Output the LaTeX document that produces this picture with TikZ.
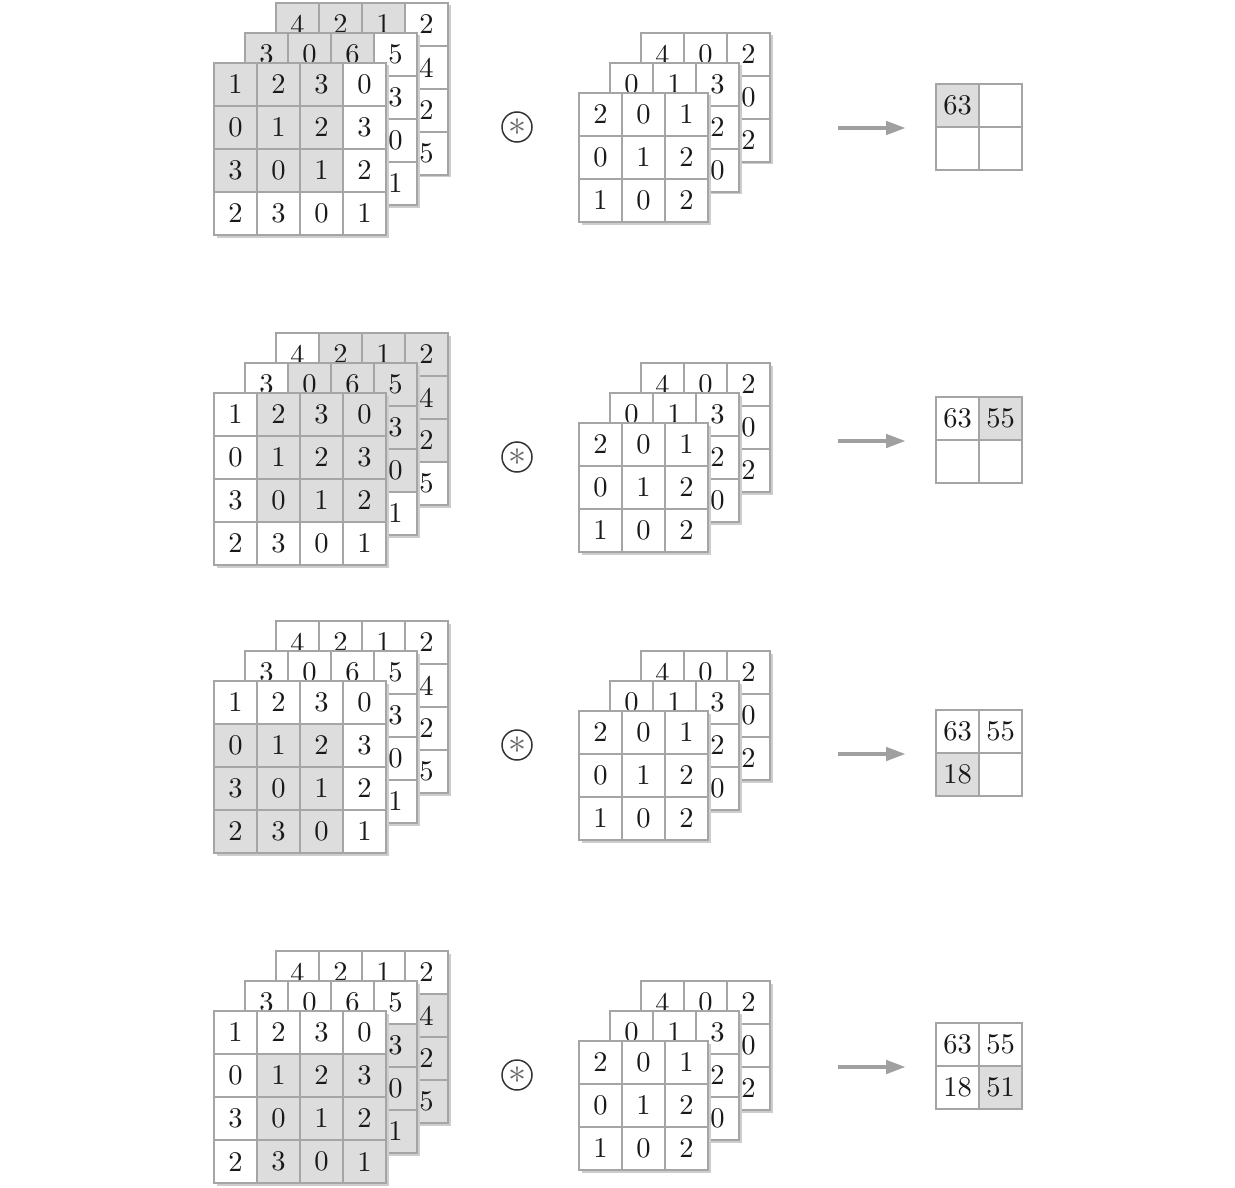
\documentclass[tikz,border=0pt]{standalone}
\usepackage{graphicx}
\usetikzlibrary{arrows.meta}
\definecolor{cg}{RGB}{221,221,221}
\colorlet{cw}{white}
\definecolor{linec}{RGB}{165,165,165}
\definecolor{shadowc}{RGB}{205,205,205}
\definecolor{arrowc}{RGB}{160,160,160}
\tikzset{
  cell/.style={rectangle, minimum size=43pt, inner sep=0pt, draw=linec, line width=1.2pt,
    font=\fontsize{10}{12}\selectfont, text=black!90},
  frame/.style={draw=linec, line width=2.2pt},
  conv/.style={circle, draw=black!80, line width=1.5pt, minimum size=30pt, inner sep=0pt,
    text=black!60, font=\fontsize{10}{12}\selectfont},
  flow/.style={draw=arrowc, line width=4.5pt, -{Triangle[length=20pt,width=13pt]}},
}
\newcommand{\gshadow}[3]{\fill[shadowc] (#1+2.5,#2+2.5) rectangle ++(#3*43,#3*43);}
\newcommand{\mgrid}[7]{%
  \foreach \v [count=\i from 0] in #7 {%
    \pgfmathtruncatemacro\rr{int(\i/#4)}%
    \pgfmathtruncatemacro\cc{mod(\i,#4)}%
    \pgfmathtruncatemacro\sh{(\rr>=#5)&&(\rr<=#5+#4-2)&&(\cc>=#6)&&(\cc<=#6+#4-2)}%
    \ifnum\sh=1 \def\fc{cg}\else\def\fc{cw}\fi
    \node[cell,fill=\fc] (#1-\rr-\cc) at ({#2+\cc*43+21.5},{#3+\rr*43+21.5}) {\scalebox{2.85}{\v}};
  }
  \draw[frame] (#2,#3) rectangle ++(#4*43,#4*43);
}
\def\inback{4,2,1,2,{},{},{},4,{},{},{},2,{},{},{},5}
\def\inmid{3,0,6,5,{},{},{},3,{},{},{},0,{},{},{},1}
\def\infront{1,2,3,0,0,1,2,3,3,0,1,2,2,3,0,1}
\def\fback{4,0,2,{},{},0,{},{},2}
\def\fmid{0,1,3,{},{},2,{},{},0}
\def\ffront{2,0,1,0,1,2,1,0,2}
\def\outA{63,{},{},{}}
\def\outB{63,55,{},{}}
\def\outC{63,55,18,{}}
\def\outD{63,55,18,51}
\newcommand{\convsym}{\scalebox{3.6}{$\ast$}}
\begin{document}
\begin{tikzpicture}[x=1pt,y=-1pt]
\useasboundingbox (0,0) rectangle (1235,1188);
% ---------- row 1 ----------
\gshadow{276}{3}{4}\mgrid{inAb}{276}{3}{4}{0}{0}{\inback}
\gshadow{245}{33}{4}\mgrid{inAm}{245}{33}{4}{0}{0}{\inmid}
\gshadow{214}{63}{4}\mgrid{inAf}{214}{63}{4}{0}{0}{\infront}
\node[conv] (opA) at (517,127) {\convsym};
\gshadow{641}{33}{3}\mgrid{fAb}{641}{33}{3}{9}{9}{\fback}
\gshadow{610}{63}{3}\mgrid{fAm}{610}{63}{3}{9}{9}{\fmid}
\gshadow{579}{93}{3}\mgrid{fAf}{579}{93}{3}{9}{9}{\ffront}
\coordinate (arAs) at (838,128);
\coordinate (arAe) at (906,128);
\draw[flow] (arAs) -- (arAe);
\mgrid{oA}{936}{84}{2}{0}{0}{\outA}
% ---------- row 2 ----------
\gshadow{276}{333}{4}\mgrid{inBb}{276}{333}{4}{0}{1}{\inback}
\gshadow{245}{363}{4}\mgrid{inBm}{245}{363}{4}{0}{1}{\inmid}
\gshadow{214}{393}{4}\mgrid{inBf}{214}{393}{4}{0}{1}{\infront}
\node[conv] (opB) at (517,457) {\convsym};
\gshadow{641}{363}{3}\mgrid{fBb}{641}{363}{3}{9}{9}{\fback}
\gshadow{610}{393}{3}\mgrid{fBm}{610}{393}{3}{9}{9}{\fmid}
\gshadow{579}{423}{3}\mgrid{fBf}{579}{423}{3}{9}{9}{\ffront}
\coordinate (arBs) at (838,441);
\coordinate (arBe) at (906,441);
\draw[flow] (arBs) -- (arBe);
\mgrid{oB}{936}{397}{2}{0}{1}{\outB}
% ---------- row 3 ----------
\gshadow{276}{621}{4}\mgrid{inCb}{276}{621}{4}{1}{0}{\inback}
\gshadow{245}{651}{4}\mgrid{inCm}{245}{651}{4}{1}{0}{\inmid}
\gshadow{214}{681}{4}\mgrid{inCf}{214}{681}{4}{1}{0}{\infront}
\node[conv] (opC) at (517,745) {\convsym};
\gshadow{641}{651}{3}\mgrid{fCb}{641}{651}{3}{9}{9}{\fback}
\gshadow{610}{681}{3}\mgrid{fCm}{610}{681}{3}{9}{9}{\fmid}
\gshadow{579}{711}{3}\mgrid{fCf}{579}{711}{3}{9}{9}{\ffront}
\coordinate (arCs) at (838,754);
\coordinate (arCe) at (906,754);
\draw[flow] (arCs) -- (arCe);
\mgrid{oC}{936}{710}{2}{1}{0}{\outC}
% ---------- row 4 ----------
\gshadow{276}{951}{4}\mgrid{inDb}{276}{951}{4}{1}{1}{\inback}
\gshadow{245}{981}{4}\mgrid{inDm}{245}{981}{4}{1}{1}{\inmid}
\gshadow{214}{1011}{4}\mgrid{inDf}{214}{1011}{4}{1}{1}{\infront}
\node[conv] (opD) at (517,1075) {\convsym};
\gshadow{641}{981}{3}\mgrid{fDb}{641}{981}{3}{9}{9}{\fback}
\gshadow{610}{1011}{3}\mgrid{fDm}{610}{1011}{3}{9}{9}{\fmid}
\gshadow{579}{1041}{3}\mgrid{fDf}{579}{1041}{3}{9}{9}{\ffront}
\coordinate (arDs) at (838,1067);
\coordinate (arDe) at (906,1067);
\draw[flow] (arDs) -- (arDe);
\mgrid{oD}{936}{1023}{2}{1}{1}{\outD}
\end{tikzpicture}
\end{document}
